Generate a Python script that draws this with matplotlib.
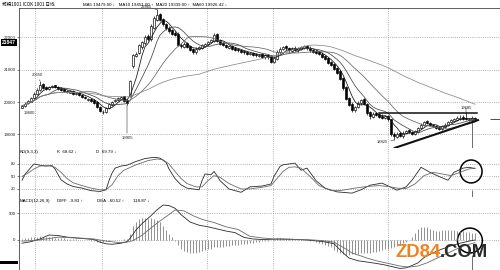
import numpy as np
import pandas as pd
import matplotlib
matplotlib.use("Agg")
import matplotlib.pyplot as plt
from matplotlib.patches import Ellipse, Rectangle

plt.rcParams['font.family'] = ['Liberation Sans', 'Noto Sans CJK SC', 'DejaVu Sans']

# ---- daily bars (10 per row) ----
opens = [19820, 19880, 19960, 20010, 20120, 20260, 20380, 20560, 20450, 20390,
         20460, 20520, 20460, 20420, 20390, 20350, 20290, 20340, 20250, 20290,
         20220, 20160, 20060, 20100, 20050, 20000, 19860, 19700, 19690, 19810,
         19920, 20020, 20050, 20100, 20180, 20060, 20200, 21100, 21420, 21520,
         21700, 21820, 22050, 21950, 22300, 22550, 22720, 22580, 22420, 22300,
         22220, 22150, 22120, 21760, 21700, 21820, 21720, 21640, 21540, 21640,
         21680, 21740, 21800, 21860, 21900, 22100, 21920, 21820, 21780, 21680,
         21740, 21680, 21640, 21620, 21580, 21560, 21480, 21530, 21480, 21420,
         21480, 21380, 21460, 21420, 21230, 21330, 21540, 21640, 21720, 21680,
         21580, 21680, 21600, 21640, 21680, 21740, 21680, 21620, 21580, 21540,
         21500, 21420, 21360, 21240, 21180, 21050, 20950, 20740, 20450, 20120,
         19950, 19740, 19840, 19960, 20080, 19950, 19680, 19540, 19660, 19620,
         19580, 19500, 19580, 19460, 19020, 18930, 19040, 18940, 19040, 19120,
         19080, 19000, 19080, 19190, 19290, 19400, 19350, 19300, 19260, 19220,
         19170, 19240, 19290, 19370, 19420, 19450, 19480, 19540, 19500, 19440,
         19450, 19520]
highs = [19920, 19990, 20060, 20170, 20300, 20430, 20650, 20590, 20480, 20510,
         20540, 20540, 20490, 20450, 20410, 20370, 20360, 20360, 20310, 20310,
         20240, 20190, 20120, 20130, 20080, 20020, 19880, 19740, 19850, 19960,
         20040, 20090, 20140, 20190, 20200, 20080, 20680, 21500, 21560, 21790,
         21900, 22060, 22100, 22400, 22650, 22865, 22760, 22600, 22450, 22340,
         22260, 22200, 22160, 21820, 21850, 21850, 21760, 21680, 21690, 21740,
         21800, 21840, 21880, 21960, 22150, 22130, 21960, 21860, 21800, 21760,
         21780, 21700, 21670, 21650, 21610, 21590, 21550, 21560, 21510, 21500,
         21510, 21490, 21480, 21450, 21390, 21600, 21690, 21740, 21760, 21700,
         21690, 21720, 21700, 21740, 21770, 21780, 21720, 21650, 21610, 21580,
         21540, 21450, 21390, 21270, 21220, 21080, 20980, 20780, 20480, 20160,
         19990, 19890, 20020, 20090, 20110, 19980, 19710, 19680, 19700, 19650,
         19620, 19600, 19610, 19480, 19060, 19060, 19080, 19090, 19140, 19150,
         19110, 19130, 19240, 19340, 19420, 19440, 19380, 19330, 19290, 19250,
         19280, 19340, 19420, 19470, 19500, 19560, 19600, 19600, 19685, 19510,
         19560, 19550]
lows = [19800, 19850, 19930, 19990, 20100, 20230, 20350, 20410, 20360, 20370,
        20430, 20420, 20380, 20350, 20310, 20270, 20270, 20230, 20230, 20180,
        20120, 20090, 20040, 20010, 19950, 19820, 19680, 19620, 19660, 19790,
        19890, 19990, 20030, 20080, 20010, 19905, 20150, 21050, 21380, 21480,
        21650, 21780, 21900, 21900, 22250, 22500, 22500, 22350, 22240, 22150,
        22080, 22040, 21740, 21660, 21660, 21660, 21580, 21500, 21500, 21600,
        21640, 21700, 21760, 21820, 21860, 21860, 21760, 21720, 21660, 21640,
        21610, 21580, 21550, 21520, 21500, 21460, 21440, 21420, 21400, 21380,
        21360, 21340, 21340, 21200, 21200, 21300, 21500, 21600, 21620, 21560,
        21550, 21570, 21560, 21610, 21640, 21620, 21560, 21520, 21480, 21440,
        21360, 21300, 21180, 21100, 20980, 20860, 20680, 20380, 20060, 19880,
        19700, 19700, 19800, 19920, 19900, 19600, 19480, 19500, 19560, 19500,
        19480, 19460, 19420, 18960, 18825, 18900, 18920, 18900, 19000, 19030,
        18990, 18970, 19050, 19160, 19260, 19310, 19260, 19220, 19170, 19130,
        19140, 19210, 19260, 19340, 19390, 19420, 19450, 19450, 19430, 19420,
        19430, 19440]
closes = [19880, 19950, 20020, 20120, 20260, 20380, 20520, 20440, 20400, 20470,
          20500, 20450, 20410, 20380, 20340, 20300, 20330, 20260, 20280, 20210,
          20150, 20120, 20090, 20040, 19980, 19850, 19720, 19680, 19820, 19930,
          20010, 20060, 20110, 20160, 20040, 19980, 20650, 21450, 21500, 21750,
          21850, 22000, 21950, 22350, 22600, 22700, 22550, 22400, 22280, 22200,
          22120, 22080, 21780, 21720, 21800, 21700, 21620, 21560, 21650, 21700,
          21760, 21800, 21850, 21920, 22080, 21900, 21800, 21760, 21700, 21720,
          21650, 21620, 21600, 21560, 21540, 21500, 21510, 21460, 21440, 21460,
          21400, 21450, 21380, 21250, 21350, 21560, 21650, 21700, 21660, 21600,
          21650, 21610, 21660, 21700, 21720, 21660, 21600, 21560, 21520, 21480,
          21400, 21340, 21220, 21150, 21020, 20900, 20720, 20420, 20100, 19920,
          19760, 19850, 19980, 20050, 19950, 19650, 19560, 19640, 19600, 19550,
          19520, 19560, 19460, 19000, 18950, 19020, 18960, 19050, 19100, 19060,
          19020, 19100, 19200, 19300, 19380, 19340, 19290, 19250, 19200, 19170,
          19250, 19300, 19380, 19430, 19460, 19500, 19520, 19480, 19460, 19470,
          19500, 19480]

ma_periods = [5, 10, 20, 60]
ma_colors = ['#111111', '#444444', '#666666', '#888888']

price_ticks = [19000, 20000, 21000, 22000]
kd_ticks = [20, 50, 80]
macd_ticks = [0, 500]
month_bars = [4.3, 26.7, 61.7, 83.7, 122]   # dotted month separators

# marked highs / lows: (bar, price)
mark_bars = [0, 6, 35, 45, 124, 148]
mark_prices = [19800, 20650, 19905, 22865, 18825, 19685]

# hand drawn lines on the price panel
resist_x = [119, 151.7]
resist_y = [19660, 19660]
support_x = [124.3, 152]
support_y = [18580, 19440]

# KD(9,3,3)
k_bars = [0, 1, 3, 4, 6, 8, 10, 11, 12, 13, 15, 17, 20, 23, 26, 28, 29, 30, 31, 33,
          35, 38, 41, 44, 46, 48, 49, 51, 53, 55, 58, 59, 60, 61, 63, 64, 65, 66, 69, 73,
          76, 80, 83, 84, 86, 87, 89, 91, 93, 95, 98, 101, 105, 110, 113, 116, 120, 123, 125, 128,
          130, 133, 136, 139, 142, 144, 147, 149, 151]
k_vals = [41, 55, 72, 80, 77, 75, 76, 68, 55, 42, 32, 26, 22, 16, 14, 18, 40, 58, 70, 75,
          77, 86, 93, 96, 94, 84, 68, 45, 30, 22, 19, 18, 40, 56, 54, 62, 52, 40, 20, 12,
          25, 27, 32, 50, 74, 78, 80, 82, 65, 70, 40, 22, 13, 10, 18, 29, 34, 24, 17, 25,
          41, 72, 60, 50, 41, 60, 70, 72, 69]
d_bars = [0, 2, 4, 6, 9, 11, 13, 15, 17, 20, 23, 26, 28, 30, 32, 34, 38, 42, 45, 47,
          49, 51, 53, 55, 58, 60, 62, 64, 66, 69, 73, 76, 80, 83, 85, 87, 89, 91, 93, 96,
          99, 103, 106, 111, 115, 119, 122, 125, 128, 131, 134, 137, 140, 143, 146, 149, 151]
d_vals = [50, 58, 68, 75, 76, 72, 60, 45, 35, 28, 22, 18, 18, 30, 52, 65, 78, 88, 92, 90,
          80, 62, 45, 33, 25, 25, 40, 52, 48, 33, 20, 20, 24, 28, 45, 62, 72, 73, 70, 50,
          28, 16, 16, 22, 26, 28, 26, 22, 21, 32, 52, 60, 56, 52, 60, 68, 70]

# MACD(12,26,9)
diff_bars = [0, 3, 6, 9, 12, 15, 18, 21, 24, 26, 28, 30, 33, 35, 36, 38, 40, 43, 45, 47,
             49, 51, 53, 56, 59, 62, 65, 68, 71, 74, 77, 80, 83, 86, 89, 92, 95, 98, 101, 104,
             107, 109, 112, 115, 118, 121, 124, 126, 128, 130, 132, 134, 137, 140, 143, 146, 149, 151]
diff_vals = [-70, -40, 10, 85, 75, 45, 30, 15, 0, -50, -80, -90, -70, -40, 20, 180, 300, 450, 560, 650,
             640, 590, 470, 330, 270, 240, 200, 160, 130, 40, 10, 0, 5, 10, 5, 0, -10, -25, -45, -80,
             -250, -350, -400, -425, -450, -480, -520, -545, -535, -490, -440, -340, -250, -180, -120, -70, -30, -10]
dea_bars = [0, 4, 8, 12, 16, 20, 24, 28, 32, 35, 37, 40, 43, 46, 49, 51, 54, 57, 60, 64,
            68, 72, 76, 80, 84, 88, 92, 96, 100, 104, 108, 110, 113, 115, 118, 122, 126, 129, 132, 135,
            138, 141, 144, 147, 149, 151]
dea_vals = [-30, -20, 10, 45, 35, 25, 10, -30, -55, -50, -20, 80, 220, 350, 470, 557, 540, 450, 380, 320,
            240, 190, 60, 30, 10, 5, 0, -5, -20, -50, -180, -255, -310, -350, -400, -450, -500, -520, -500, -440,
            -360, -280, -200, -130, -90, -60]
macd_hist = [10, 20, 30, 40, 50, 55, 60, 55, 50, 45,
             40, 35, 30, 25, 20, 15, 15, 10, 5, 0,
             -5, -10, -15, -20, -30, -40, -45, -40, -30, -20,
             -15, -10, -5, 0, 5, 10, 100, 250, 330, 380,
             400, 400, 390, 400, 390, 370, 330, 260, 180, 100,
             40, -20, -100, -170, -210, -240, -250, -260, -250, -240,
             -220, -200, -180, -170, -150, -150, -150, -140, -130, -120,
             -110, -100, -95, -90, -85, -80, -75, -60, -50, -40,
             -30, -20, -20, -10, 10, 20, 30, 30, 30, 20,
             20, 10, 10, 5, 0, -10, -20, -35, -50, -65,
             -80, -100, -120, -150, -190, -230, -260, -280, -290, -290,
             -280, -280, -270, -260, -260, -250, -250, -240, -230, -220,
             -200, -180, -170, -160, -150, -130, -100, -70, -40, -10,
             40, 120, 200, 230, 240, 230, 200, 180, 170, 170,
             175, 180, 185, 180, 175, 170, 165, 160, 150, 140,
             125, 119]

title = '郑棉1001 ICOK 1001 日线'
ma_header = 'MA5 19479.00 ↓   MA10 19451.00 ↑  MA20 19339.00 ↑  MA60 19926.42 ↓'
kd_header = ['KD(9,3,3)', 'K  68.62 ↓', 'D  69.79 ↓']
macd_header = ['MACD(12,26,9)', 'DIFF  -9.83 ↑', 'DEA  -60.52 ↑', '118.87 ↓']

# ---- layout (pixel based, figure is 500 x 270) ----
W, H = 500.0, 270.0
def fx(px):
    return px / W
def fy(py):
    return 1 - py / H

fig = plt.figure(figsize=(5, 2.7), dpi=100)
fig.patch.set_facecolor('white')
ax_p = fig.add_axes([fx(19), fy(148), 1 - fx(19), (148 - 8) / H])
ax_k = fig.add_axes([fx(19), fy(197), 1 - fx(19), (197 - 148) / H], sharex=ax_p)
ax_m = fig.add_axes([fx(19), 0, 1 - fx(19), (270 - 197) / H], sharex=ax_p)

ax_p.set_xlim(-1, 159.33)
ax_p.set_ylim(18576, 22910)
ax_k.set_ylim(0.7, 118.3)
ax_m.set_ylim(-575, 802)

grid_kw = dict(color='#9a9a9a', lw=0.6, ls=(0, (1, 1.6)), zorder=0)
for ax in (ax_p, ax_k, ax_m):
    for b in month_bars:
        ax.axvline(b, **grid_kw)
    ax.tick_params(axis='x', bottom=False, labelbottom=False)
    ax.tick_params(axis='y', labelsize=3.2, length=1.5, width=0.4, pad=1, colors='#222222')
    for s in ax.spines.values():
        s.set_linewidth(0.6)
        s.set_color('#444444')
    ax.spines['right'].set_visible(False)
for t in price_ticks:
    ax_p.axhline(t, **grid_kw)
for t in kd_ticks:
    ax_k.axhline(t, **grid_kw)
for t in macd_ticks:
    ax_m.axhline(t, **grid_kw)
ax_p.set_yticks(price_ticks)
ax_k.set_yticks(kd_ticks)
ax_m.set_yticks(macd_ticks)
ax_k.spines['top'].set_visible(False)
ax_m.spines['top'].set_visible(False)
ax_m.spines['bottom'].set_visible(False)

# ---- candles ----
x = np.arange(len(closes))
o = np.array(opens)
hi = np.array(highs)
lo = np.array(lows)
c = np.array(closes)
up = c >= o
ax_p.vlines(x, lo, hi, color='black', lw=0.5, zorder=2)
ax_p.bar(x[up], c[up] - o[up], bottom=o[up], width=0.62, color='white',
         edgecolor='black', lw=0.45, zorder=3)
ax_p.bar(x[~up], o[~up] - c[~up], bottom=c[~up], width=0.62, color='black',
         edgecolor='black', lw=0.45, zorder=3)

# moving averages
s = pd.Series(closes, dtype=float)
for n, col in zip(ma_periods, ma_colors):
    ax_p.plot(x, s.rolling(n, min_periods=1).mean(), color=col, lw=0.55, zorder=4)

# trend lines
ax_p.plot(resist_x, resist_y, color='#111111', lw=1.1, zorder=5)
ax_p.plot(support_x, support_y, color='#111111', lw=1.5, zorder=5, clip_on=False)
ax_p.hlines(closes[-1], 156, 159.33, color='#333333', lw=0.6)

# high / low marks
mark_offsets = [(2, -3, 'left', 'top'), (-3, 4, 'center', 'bottom'),
                (0, -31, 'center', 'top'), (-5, 2, 'right', 'center'),
                (-6, -2, 'right', 'center'), (0, 2, 'center', 'bottom')]
for b, p, (dx, dy, ha, va) in zip(mark_bars, mark_prices, mark_offsets):
    ax_p.annotate(str(p), xy=(b, p), xytext=(dx * 0.72, dy * 0.72),
                  textcoords='offset points', ha=ha, va=va, fontsize=3, color='#222222',
                  arrowprops=dict(arrowstyle='-', lw=0.4, color='#333333',
                                  shrinkA=0, shrinkB=0), zorder=6)

# cursor line at the last bars
cursor_bar = 150
ax_p.vlines(cursor_bar, 18576, 19530, color='#555555', lw=0.6)
ax_k.vlines(cursor_bar, 0.7, 17, color='#555555', lw=0.6)
ax_m.vlines(cursor_bar, -575, -300, color='#555555', lw=0.6)

# ---- KD ----
ax_k.plot(k_bars, k_vals, color='#2a2a2a', lw=0.6)
ax_k.plot(d_bars, d_vals, color='#6a6a6a', lw=0.6)
ax_k.add_patch(Ellipse((149.7, 62), 7.3, 55, fill=False, lw=1.1, color='black', clip_on=False))

# ---- MACD ----
ax_m.vlines(x, 0, macd_hist, color='#666666', lw=0.5)
ax_m.plot(diff_bars, diff_vals, color='#2a2a2a', lw=0.6)
ax_m.plot(dea_bars, dea_vals, color='#6a6a6a', lw=0.6)
ax_m.add_patch(Ellipse((149.3, -19), 8.3, 470, fill=False, lw=1.1, color='black', clip_on=False))

# ---- header texts ----
fig.text(fx(2), fy(4.5), title, fontsize=3.3, va='center', ha='left',
         family=['Noto Sans CJK SC', 'DejaVu Sans'])
fig.text(fx(83), fy(4.5), ma_header, fontsize=3.2, va='center', ha='left')
for txt, px in zip(kd_header, [20, 57, 96]):
    fig.text(fx(px), fy(152), txt, fontsize=3.2, va='center', ha='left')
for txt, px in zip(macd_header, [20, 57, 97, 133]):
    fig.text(fx(px), fy(200.7), txt, fontsize=3.2, va='center', ha='left')

# price tag on the axis
fig.text(fx(9), fy(42.5), '21847', color='white', fontsize=3.6, fontweight='bold',
         ha='center', va='center',
         bbox=dict(facecolor='black', edgecolor='none', pad=0.8))
fig.patches.append(Rectangle((0, fy(264)), fx(18), 3.5 / H, transform=fig.transFigure,
                             facecolor='black', edgecolor='none'))

# watermark
fig.text(fx(395), fy(257), 'ZD84', color='#f0821e', fontsize=13.3, fontweight='bold',
         family='Liberation Sans', ha='left', va='baseline')
fig.text(fx(440), fy(257), '.COM', color='#2b2b2b', fontsize=13.3, fontweight='bold',
         family='Liberation Sans', ha='left', va='baseline')

fig.savefig('out.png', dpi=100, facecolor='white')
